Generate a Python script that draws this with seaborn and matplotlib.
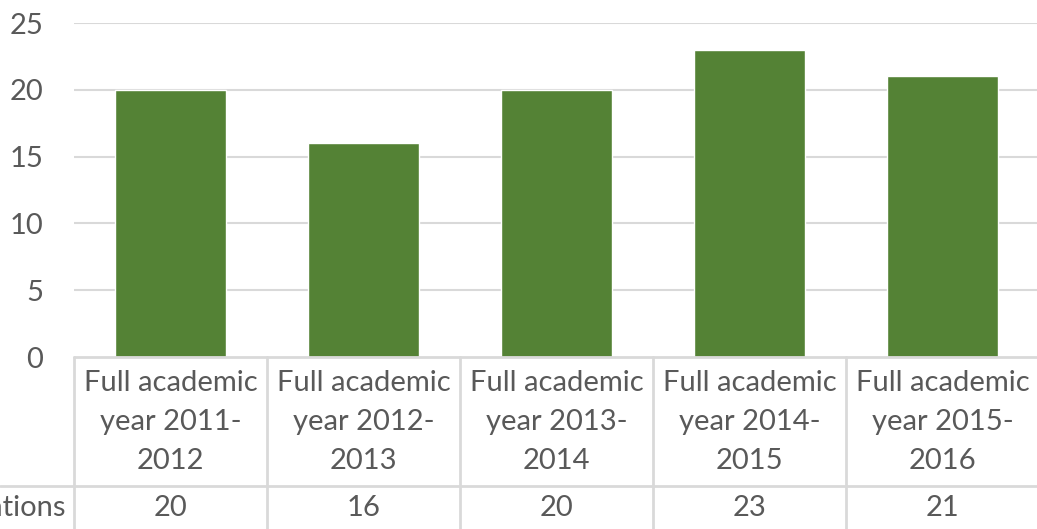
import matplotlib
matplotlib.use("Agg")
import matplotlib.pyplot as plt
import seaborn as sns
import pandas as pd

# data
categories = ["Full academic\nyear 2011-\n2012", "Full academic\nyear 2012-\n2013",
              "Full academic\nyear 2013-\n2014", "Full academic\nyear 2014-\n2015",
              "Full academic\nyear 2015-\n2016"]
values = [20, 16, 20, 23, 21]
row_label = "Applications"
y_ticks = [0, 5, 10, 15, 20, 25]

df = pd.DataFrame({"cat": categories, "val": values})

sns.set_theme(style="white")
plt.rcParams["font.family"] = ["Lato", "DejaVu Sans"]
txt = "#595959"
line_c = "#d9d9d9"
fs = 21

W, H = 1037, 529
fig = plt.figure(figsize=(W / 100, H / 100), dpi=100)
left, right, top, bottom = 74, 1039, 23, 357
ax = fig.add_axes([left / W, (H - bottom) / H, (right - left) / W, (bottom - top) / H])

sns.barplot(data=df, x="cat", y="val", color="#548235", width=0.575, saturation=1, ax=ax)
ax.set_xlim(-0.5, len(categories) - 0.5)
ax.set_ylim(0, 25)
ax.set_yticks(y_ticks)
ax.set_yticklabels([str(t) for t in y_ticks], color=txt, fontsize=fs)
ax.tick_params(axis="y", length=0, pad=22)
ax.set_xticks([])
ax.set_xlabel("")
ax.set_ylabel("")
for s in ax.spines.values():
    s.set_visible(False)
for t in y_ticks[1:]:
    ax.axhline(t, color=line_c, lw=1.5, zorder=0)
ax.set_axisbelow(True)

# data table under the plot
tr = ax.get_xaxis_transform()
h = bottom - top
y_row = -(486 - bottom) / h
y_end = -(H - bottom) / h
ax.plot([-0.5, 4.5], [0, 0], color=line_c, lw=2, transform=tr, clip_on=False)
ax.plot([-0.5 - 74 / 193, 4.5], [y_row, y_row], color=line_c, lw=2, transform=tr, clip_on=False)
for i in range(len(categories) + 1):
    ax.plot([i - 0.5, i - 0.5], [0, y_end], color=line_c, lw=2, transform=tr, clip_on=False)
for i, (c, v) in enumerate(zip(categories, values)):
    ax.text(i, -(422 - bottom) / h, c, transform=tr, ha="center", va="center",
            color=txt, fontsize=fs, linespacing=1.6)
    ax.text(i, -(508 - bottom) / h, str(v), transform=tr, ha="center", va="center",
            color=txt, fontsize=fs)
ax.text(-0.5 - 8 / 193, -(508 - bottom) / h, row_label, transform=tr, ha="right",
        va="center", color=txt, fontsize=fs)

fig.savefig("out.png", dpi=100)
